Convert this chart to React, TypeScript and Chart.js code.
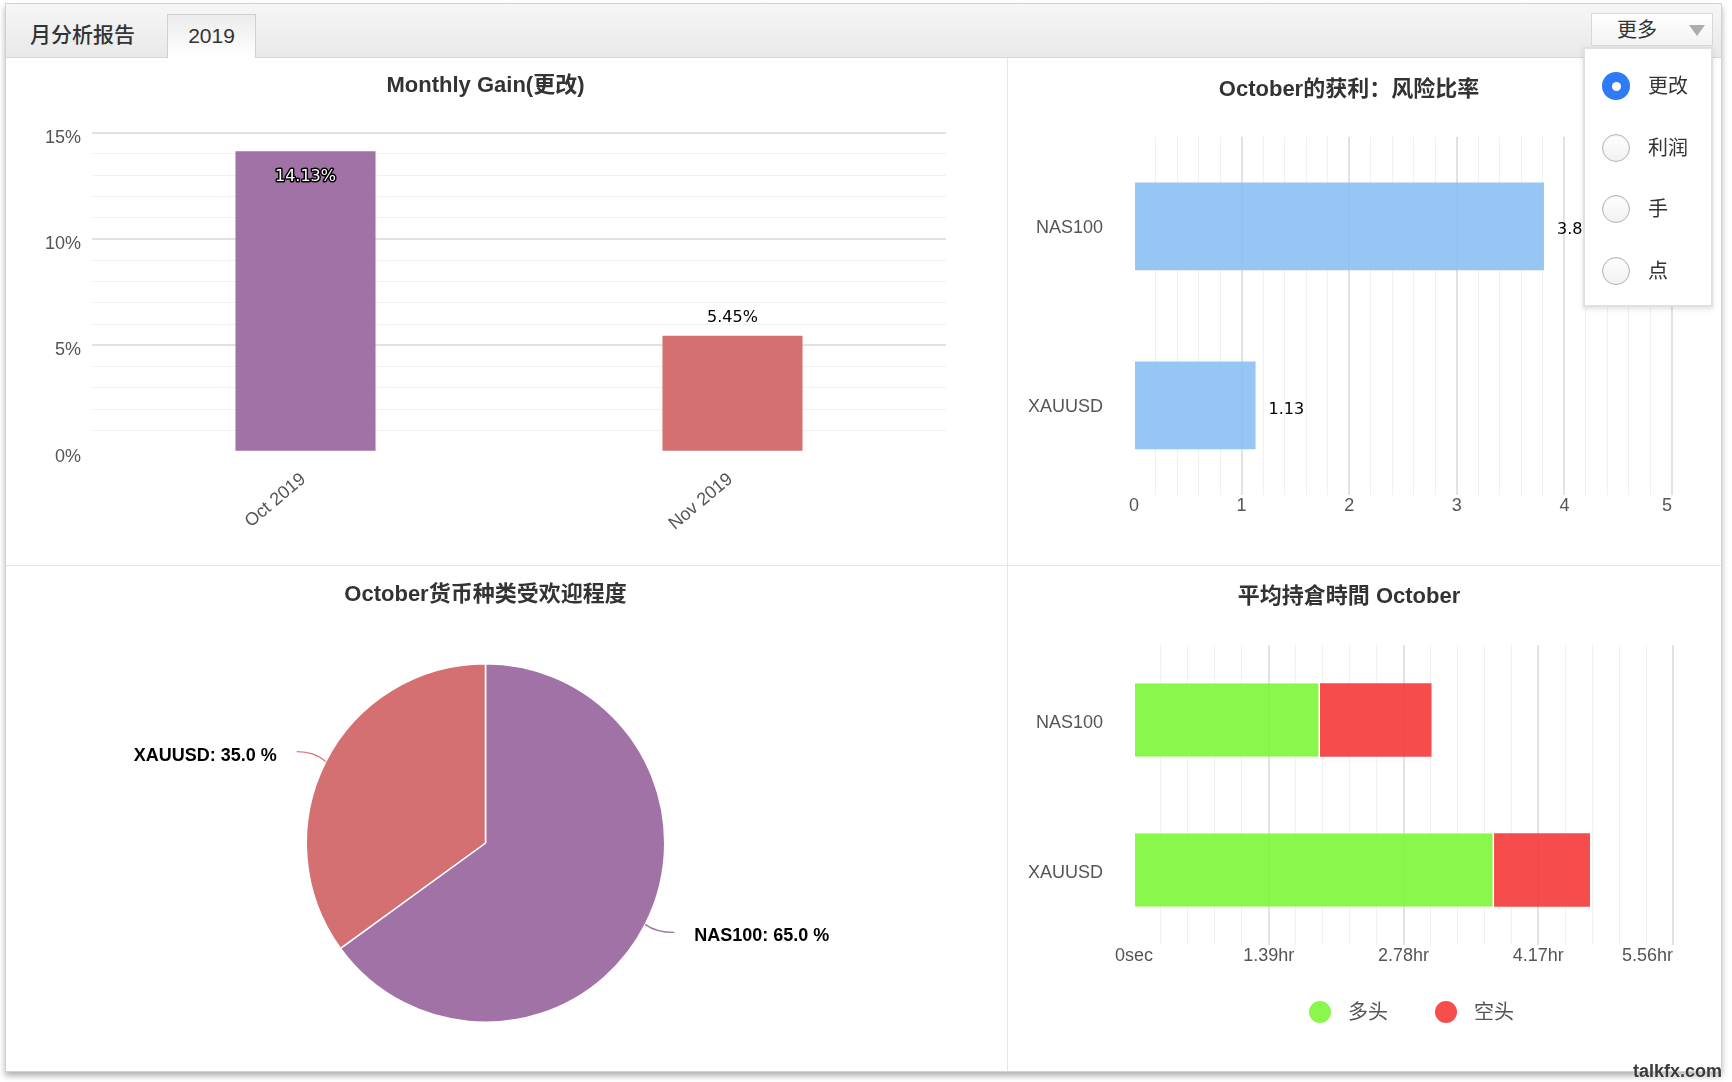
import React, { useEffect, useRef } from 'react';
import { Chart, registerables } from 'chart.js';

Chart.register(...registerables);

const SANS = '"Liberation Sans", "Noto Sans CJK SC", Arial, sans-serif';
const VALUE_FONT = '16px "DejaVu Sans", sans-serif';
Chart.defaults.font.family = SANS;

// ---- Monthly gain ----
const gainMonths = ['Oct 2019', 'Nov 2019'];
const gainValues = [14.13, 5.45];
const gainColors = ['#a172a5', '#d57072'];
const gainAxisMax = 15;

// ---- Profit : risk ratio ----
const ratioSymbols = ['NAS100', 'XAUUSD'];
const ratioValues = [3.81, 1.13];
const ratioAxisMax = 5;

// ---- Symbol popularity ----
const popularitySymbols = ['NAS100', 'XAUUSD'];
const popularityShares = [65.0, 35.0];
const popularityColors = ['#a172a5', '#d57072'];

// ---- Average holding time (seconds) ----
const holdSymbols = ['NAS100', 'XAUUSD'];
const holdLongSeconds = [6900, 13360];
const holdShortSeconds = [4140, 3560];
const holdSeriesNames = ['多头', '空头'];
const holdSeriesColors = ['rgba(125,246,57,0.9)', 'rgba(245,57,57,0.9)'];
const holdLegendColors = ['#8af74d', '#f64d4d'];
const holdAxisMax = 20000;

// ---- UI texts ----
const tabTitle = '月分析报告';
const tabYear = '2019';
const moreLabel = '更多';
const menuOptions = ['更改', '利润', '手', '点'];

const titleFont = { size: 22, weight: 'bold' as const, family: SANS };
const tickFont = { size: 18, family: SANS };

function gridStyle(isMajor: (v: number) => boolean) {
  return {
    drawTicks: false,
    color: (c: any) => {
      const v = c.tick ? c.tick.value : NaN;
      if (!isFinite(v) || Math.abs(v) < 1e-9) return 'rgba(0,0,0,0)';
      return isMajor(v) ? '#e2e2e2' : '#f1f1f1';
    },
    lineWidth: (c: any) => {
      const v = c.tick ? c.tick.value : 0;
      return isMajor(v) ? 2 : 1;
    },
  };
}

const justifyLastTick = {
  id: 'justifyLastTick',
  beforeDraw(chart: any) {
    const s = chart.scales.x;
    if (!s) return;
    const items = s.getLabelItems();
    for (let i = items.length - 1; i >= 0; i--) {
      if (items[i].label !== '' && items[i].label != null) {
        items[i].options.textAlign = 'right';
        break;
      }
    }
  },
};

const gainLabels = {
  id: 'gainLabels',
  afterDatasetsDraw(chart: any) {
    const ctx = chart.ctx;
    const meta = chart.getDatasetMeta(0);
    meta.data.forEach((bar: any, i: number) => {
      const text = gainValues[i].toFixed(2) + '%';
      ctx.save();
      ctx.font = VALUE_FONT;
      ctx.textAlign = 'center';
      ctx.textBaseline = 'middle';
      if (bar.y - chart.chartArea.top < 30) {
        const y = bar.y + 26;
        ctx.lineJoin = 'round';
        ctx.lineWidth = 3;
        ctx.strokeStyle = '#000';
        ctx.strokeText(text, bar.x, y);
        ctx.fillStyle = '#fff';
        ctx.fillText(text, bar.x, y);
      } else {
        ctx.fillStyle = '#000';
        ctx.fillText(text, bar.x, bar.y - 18);
      }
      ctx.restore();
    });
  },
};

const ratioLabels = {
  id: 'ratioLabels',
  afterDatasetsDraw(chart: any) {
    const ctx = chart.ctx;
    const meta = chart.getDatasetMeta(0);
    meta.data.forEach((bar: any, i: number) => {
      ctx.save();
      ctx.font = VALUE_FONT;
      ctx.textAlign = 'left';
      ctx.textBaseline = 'middle';
      ctx.fillStyle = '#000';
      ctx.fillText(ratioValues[i].toFixed(2), bar.x + 13, bar.y + 4);
      ctx.restore();
    });
  },
};

const pieLabels = {
  id: 'pieLabels',
  afterDraw(chart: any) {
    const ctx = chart.ctx;
    const meta = chart.getDatasetMeta(0);
    meta.data.forEach((arc: any, i: number) => {
      const { x, y, startAngle, endAngle, outerRadius } = arc.getProps(
        ['x', 'y', 'startAngle', 'endAngle', 'outerRadius'], true);
      const mid = (startAngle + endAngle) / 2;
      const dx = Math.cos(mid);
      const dy = Math.sin(mid);
      const px = x + dx * outerRadius;
      const py = y + dy * outerRadius;
      const right = dx >= 0;
      const ly = y + dy * (outerRadius + 20) + 3;
      const tx = x + (right ? 1 : -1) * (Math.abs(dx) * outerRadius + 49);
      const ex = tx + (right ? -20 : 20);
      const ey = ly - 4;
      ctx.save();
      ctx.strokeStyle = popularityColors[i];
      ctx.lineWidth = 1.3;
      ctx.beginPath();
      ctx.moveTo(px, py);
      ctx.quadraticCurveTo(px + dx * 12, ey, ex, ey);
      ctx.stroke();
      ctx.font = `bold 18px ${SANS}`;
      ctx.fillStyle = '#000';
      ctx.textAlign = right ? 'left' : 'right';
      ctx.textBaseline = 'middle';
      ctx.fillText(`${popularitySymbols[i]}: ${popularityShares[i].toFixed(1)} %`, tx, ly);
      ctx.restore();
    });
  },
};

const holdLegend = {
  id: 'holdLegend',
  afterDraw(chart: any) {
    const ctx = chart.ctx;
    const ca = chart.chartArea;
    ctx.save();
    ctx.font = `20px ${SANS}`;
    const r = 11, gapText = 17, itemGap = 47;
    const items = chart.data.datasets.map((d: any, i: number) => ({
      label: d.label, color: holdLegendColors[i], w: ctx.measureText(d.label).width,
    }));
    const total = items.reduce((a: number, it: any) => a + 2 * r + gapText + it.w, 0) + itemGap * (items.length - 1);
    let x = (ca.left + ca.right) / 2 + 8 - total / 2;
    const y = ca.bottom + 67;
    items.forEach((it: any) => {
      ctx.fillStyle = it.color;
      ctx.beginPath();
      ctx.arc(x + r, y, r, 0, Math.PI * 2);
      ctx.fill();
      ctx.fillStyle = '#555';
      ctx.textAlign = 'left';
      ctx.textBaseline = 'middle';
      ctx.fillText(it.label, x + 2 * r + gapText, y + 1);
      x += 2 * r + gapText + it.w + itemGap;
    });
    ctx.restore();
  },
};

function gainConfig(): any {
  return {
    type: 'bar',
    data: {
      labels: gainMonths,
      datasets: [{ data: gainValues, backgroundColor: gainColors, barPercentage: 0.328, categoryPercentage: 1 }],
    },
    options: {
      animation: false,
      responsive: false,
      layout: { padding: { left: 19, right: 19, top: 0, bottom: 0 } },
      plugins: {
        legend: { display: false },
        tooltip: { enabled: false },
        title: { display: true, text: 'Monthly Gain(更改)', color: '#333', font: titleFont, padding: { top: 14.8, bottom: 33.5 } },
      },
      scales: {
        x: {
          grid: { display: false },
          border: { display: false },
          ticks: { color: '#555', font: tickFont, minRotation: 40, maxRotation: 40, padding: 9, labelOffset: -2 },
          afterFit: (s: any) => { s.height = 112.3; },
        },
        y: {
          min: 0,
          max: gainAxisMax,
          border: { display: false },
          grid: gridStyle((v) => v % 5 === 0),
          ticks: {
            stepSize: 1, autoSkip: false, color: '#555', font: tickFont, padding: 11, labelOffset: 5,
            callback: (v: any) => (v % 5 === 0 ? `${v}%` : ''),
          },
          afterFit: (s: any) => { s.width = 67; },
        },
      },
    },
    plugins: [gainLabels],
  };
}

function ratioConfig(): any {
  return {
    type: 'bar',
    data: {
      labels: ratioSymbols,
      datasets: [{ data: ratioValues, backgroundColor: 'rgba(139,192,243,0.9)', barPercentage: 0.49, categoryPercentage: 1 }],
    },
    options: {
      indexAxis: 'y',
      animation: false,
      responsive: false,
      layout: { padding: { left: 18, right: 18, top: 0, bottom: 0 } },
      plugins: {
        legend: { display: false },
        tooltip: { enabled: false },
        title: { display: true, text: 'October的获利：风险比率', color: '#333', font: titleFont, padding: { top: 18.8, bottom: 33.5 } },
      },
      scales: {
        x: {
          min: 0,
          max: ratioAxisMax,
          border: { display: false },
          grid: gridStyle((v) => Math.abs(v - Math.round(v)) < 1e-6),
          ticks: {
            stepSize: 0.2, autoSkip: false, color: '#555', font: tickFont, padding: 0, maxRotation: 0,
            callback: (v: any) => (Math.abs(v - Math.round(v)) < 1e-6 ? String(Math.round(v)) : ''),
          },
          afterFit: (s: any) => { s.height = 69; s.paddingLeft = 0; s.paddingRight = 0; },
        },
        y: {
          grid: { display: false },
          border: { display: false },
          ticks: { color: '#555', font: tickFont, padding: 23, labelOffset: 2 },
          afterFit: (s: any) => { s.width = 108; },
        },
      },
    },
    plugins: [ratioLabels, justifyLastTick],
  };
}

function popularityConfig(): any {
  return {
    type: 'pie',
    data: {
      labels: popularitySymbols,
      datasets: [{ data: popularityShares, backgroundColor: popularityColors, borderColor: '#fff', borderWidth: 1.5 }],
    },
    options: {
      animation: false,
      responsive: false,
      layout: { padding: { left: 0, right: 0, top: 0, bottom: 48 } },
      plugins: {
        legend: { display: false },
        tooltip: { enabled: false },
        title: { display: true, text: 'October货币种类受欢迎程度', color: '#333', font: titleFont, padding: { top: 15.8, bottom: 54.8 } },
      },
    },
    plugins: [pieLabels],
  };
}

function holdConfig(): any {
  const fmt = (v: number) => (v === 0 ? '0sec' : (v / 3600).toFixed(2) + 'hr');
  return {
    type: 'bar',
    data: {
      labels: holdSymbols,
      datasets: [
        {
          label: holdSeriesNames[0], data: holdLongSeconds, backgroundColor: holdSeriesColors[0],
          borderColor: '#fff', borderWidth: { left: 0, top: 0, bottom: 0, right: 1.5 }, borderSkipped: false,
          barPercentage: 0.49, categoryPercentage: 1,
        },
        {
          label: holdSeriesNames[1], data: holdShortSeconds, backgroundColor: holdSeriesColors[1],
          borderWidth: 0, barPercentage: 0.49, categoryPercentage: 1,
        },
      ],
    },
    options: {
      indexAxis: 'y',
      animation: false,
      responsive: false,
      layout: { padding: { left: 17, right: 17, top: 0, bottom: 86 } },
      plugins: {
        legend: { display: false },
        tooltip: { enabled: false },
        title: { display: true, text: '平均持倉時間 October', color: '#333', font: titleFont, padding: { top: 17.8, bottom: 34.8 } },
      },
      scales: {
        x: {
          stacked: true,
          min: 0,
          max: holdAxisMax,
          border: { display: false },
          grid: gridStyle((v) => v % 5000 === 0),
          ticks: {
            stepSize: 1000, autoSkip: false, color: '#555', font: tickFont, padding: 0, maxRotation: 0,
            callback: (v: any) => (v % 5000 === 0 ? fmt(v) : ''),
          },
          afterFit: (s: any) => { s.height = 40; s.paddingLeft = 0; s.paddingRight = 0; },
        },
        y: {
          stacked: true,
          grid: { display: false },
          border: { display: false },
          ticks: { color: '#555', font: tickFont, padding: 23, labelOffset: 3 },
          afterFit: (s: any) => { s.width = 109; },
        },
      },
    },
    plugins: [holdLegend, justifyLastTick],
  };
}

function ChartBox(props: { left: number; top: number; width: number; height: number; make: () => any }) {
  const ref = useRef<HTMLCanvasElement>(null);
  useEffect(() => {
    const chart = new Chart(ref.current as HTMLCanvasElement, props.make());
    return () => chart.destroy();
  }, []);
  return (
    <canvas
      ref={ref}
      width={props.width}
      height={props.height}
      style={{ position: 'absolute', left: props.left, top: props.top, width: props.width, height: props.height }}
    />
  );
}

function Radio(props: { selected: boolean; top: number; label: string }) {
  const cy = props.top;
  return (
    <>
      <div
        style={{
          position: 'absolute', left: 1602, top: cy - 14, width: 28, height: 28, borderRadius: 14,
          boxSizing: 'border-box',
          border: props.selected ? 'none' : '1px solid #b4b4b4',
          background: props.selected ? '#2f7bf6' : 'linear-gradient(#ffffff, #f1f1f1)',
          boxShadow: props.selected ? 'none' : 'inset 0 1px 2px rgba(0,0,0,0.08)',
        }}
      >
        {props.selected && (
          <div style={{ position: 'absolute', left: 9.5, top: 9.5, width: 9, height: 9, borderRadius: 5, background: '#fff' }} />
        )}
      </div>
      <div style={{ position: 'absolute', left: 1648, top: cy - 14, height: 28, lineHeight: '28px', fontSize: 20, color: '#333', fontFamily: SANS }}>
        {props.label}
      </div>
    </>
  );
}

export default function App() {
  const menuY = [86, 148, 209, 271];
  return (
    <div style={{ position: 'absolute', left: 0, top: 0, width: 1732, height: 1082, background: '#fff', overflow: 'hidden', fontFamily: SANS }}>
      {/* outer frame */}
      <div style={{ position: 'absolute', left: 5, top: 3, width: 1717, height: 1069, border: '1px solid #d2d2d2', boxSizing: 'border-box', background: '#fff', boxShadow: '0 4px 6px rgba(0,0,0,0.3)' }} />
      {/* header */}
      <div style={{ position: 'absolute', left: 6, top: 4, width: 1715, height: 53, background: 'linear-gradient(#f6f6f6, #e9e9e9)', borderBottom: '1px solid #d6d6d6' }} />
      <div style={{ position: 'absolute', left: 30, top: 20, height: 30, lineHeight: '30px', fontSize: 21, fontWeight: 500, color: '#333' }}>{tabTitle}</div>
      <div style={{ position: 'absolute', left: 167, top: 14, width: 89, height: 44, boxSizing: 'border-box', border: '1px solid #d0d0d0', borderBottom: 'none', background: 'linear-gradient(#ececec, #ffffff)' }}>
        <div style={{ position: 'absolute', left: 0, right: 0, top: 6, height: 30, lineHeight: '30px', textAlign: 'center', fontSize: 21, color: '#333' }}>{tabYear}</div>
      </div>
      {/* more button */}
      <div style={{ position: 'absolute', left: 1591, top: 13, width: 122, height: 33, boxSizing: 'border-box', border: '1px solid #d8d8d8', background: 'linear-gradient(#ffffff, #f3f3f3)' }}>
        <div style={{ position: 'absolute', left: 25, top: 2, height: 28, lineHeight: '28px', fontSize: 20, color: '#333' }}>{moreLabel}</div>
        <div style={{ position: 'absolute', left: 97, top: 11, width: 0, height: 0, borderLeft: '8px solid transparent', borderRight: '8px solid transparent', borderTop: '11px solid #adadad' }} />
      </div>
      {/* panel dividers */}
      <div style={{ position: 'absolute', left: 1007, top: 58, width: 1, height: 1013, background: '#e6e6e6' }} />
      <div style={{ position: 'absolute', left: 6, top: 565, width: 1715, height: 1, background: '#e6e6e6' }} />

      <ChartBox left={6} top={58} width={959} height={506} make={gainConfig} />
      <ChartBox left={1008} top={58} width={682} height={506} make={ratioConfig} />
      <ChartBox left={6} top={566} width={959} height={505} make={popularityConfig} />
      <ChartBox left={1008} top={566} width={682} height={505} make={holdConfig} />

      {/* dropdown menu */}
      <div style={{ position: 'absolute', left: 1583, top: 47, width: 130, height: 260, boxSizing: 'border-box', border: '2px solid #e0e0e0', background: '#fff', boxShadow: '0 2px 5px rgba(0,0,0,0.12)' }} />
      {menuOptions.map((m, i) => (
        <Radio key={m} selected={i === 0} top={menuY[i]} label={m} />
      ))}

      {/* watermark */}
      <div style={{ position: 'absolute', left: 1633, top: 1060, height: 22, lineHeight: '22px', fontSize: 18, fontWeight: 'bold', color: '#3a3a3a', fontFamily: '"Liberation Sans Narrow", "Liberation Sans", sans-serif', textShadow: '0 0 2px #fff' }}>talkfx.com</div>
    </div>
  );
}
